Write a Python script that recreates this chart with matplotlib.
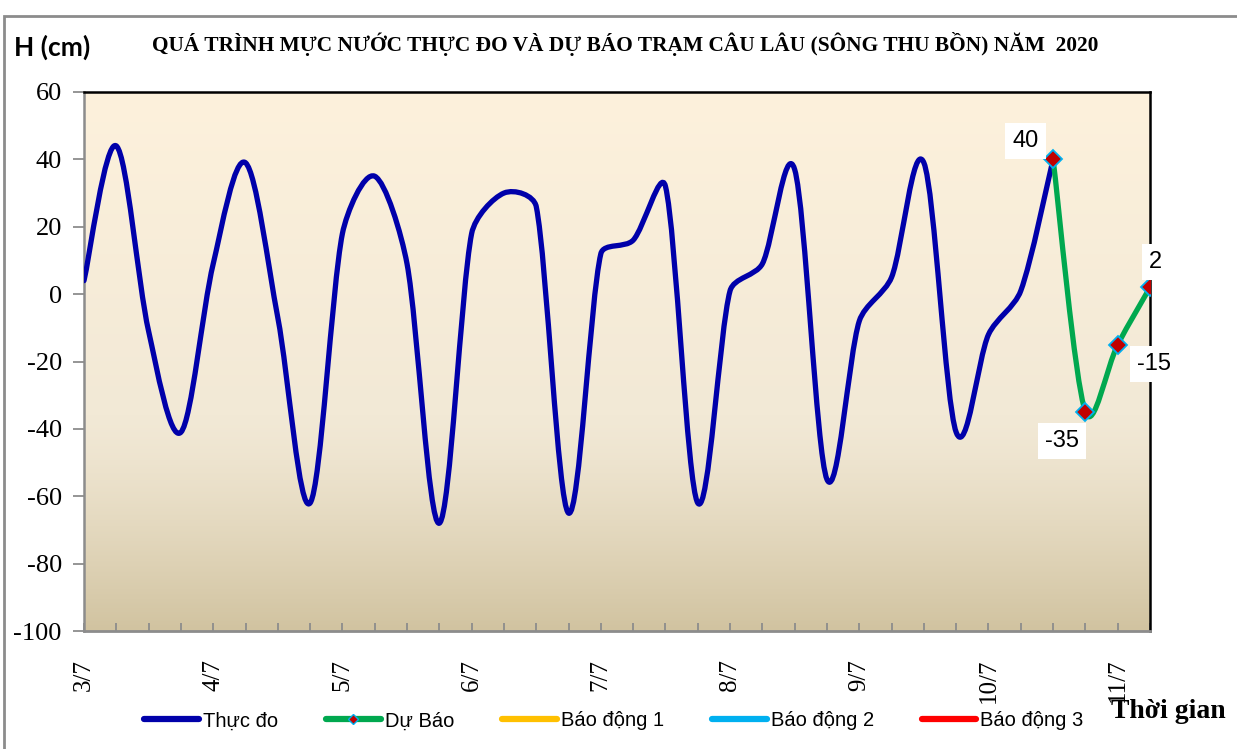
import numpy as np
import matplotlib
matplotlib.use("Agg")
import matplotlib.pyplot as plt
from matplotlib.path import Path
from matplotlib.patches import PathPatch, Rectangle
from matplotlib.lines import Line2D

# ---------------- data ----------------
day_labels = ["3/7", "4/7", "5/7", "6/7", "7/7", "8/7", "9/7", "10/7", "11/7"]
steps_per_day = 4  # 6-hourly observations

observed = [4, 44, -11, -41, 9, 39, -7, -62, 18, 35, 9, -68, 18, 30, 26, -65,
            12, 16, 32, -62, 1, 9, 37, -55, -8, 5, 39, -41, -12, 1, 40]
forecast_start = 30
forecast = [40, -35, -15, 2]

legend_labels = ["Thực đo", "Dự Báo", "Báo động 1", "Báo động 2", "Báo động 3"]
colors = {"obs": "#0000AA", "fc": "#00A84F", "bd1": "#FFC000", "bd2": "#00B0F0", "bd3": "#FF0000"}

title = "QUÁ TRÌNH MỰC NƯỚC THỰC ĐO VÀ DỰ BÁO TRẠM CÂU LÂU (SÔNG THU BỒN) NĂM  2020"

SERIF = ["Liberation Serif", "DejaVu Serif"]
SANS = ["Liberation Sans", "DejaVu Sans"]

W, H = 1237, 749
left, right, top, bottom = 84, 1150, 92, 631
YMIN, YMAX = -100, 60
n_steps = (len(day_labels) - 1) * steps_per_day + 1


def smooth_path(xs, ys, sx, sy):
    """Smoothed line: cubic Bezier through every point (Catmull-Rom tangents,
    control arms capped at a third of the segment length in screen space)."""
    pts = np.column_stack([np.asarray(xs, float) * sx, np.asarray(ys, float) * sy])
    n = len(pts)
    tang = []
    for i in range(n):
        a = pts[i - 1] if i > 0 else pts[i]
        b = pts[i + 1] if i < n - 1 else pts[i]
        tang.append((b - a) / 6.0)
    verts = [pts[0]]
    codes = [Path.MOVETO]
    for i in range(n - 1):
        p1, p2 = pts[i], pts[i + 1]
        L = np.hypot(*(p2 - p1))
        arms = []
        for tv in (tang[i], tang[i + 1]):
            ln = np.hypot(*tv)
            arms.append(tv * min(1.0, (L / 3.0) / ln) if ln > 0 else tv)
        c1 = p1 + arms[0]
        c2 = p2 - arms[1]
        verts += [c1, c2, p2]
        codes += [Path.CURVE4] * 3
    verts = np.array(verts)
    verts[:, 0] /= sx
    verts[:, 1] /= sy
    return Path(verts, codes)


fig = plt.figure(figsize=(W / 100, H / 100), dpi=100)
fig.patch.set_facecolor("white")

# outer chart border
fig.add_artist(Rectangle((4 / W, -0.01), 1.5, 1 - 16 / H + 0.01, transform=fig.transFigure,
                         fill=False, edgecolor="#8C8C8C", linewidth=2))

ax = fig.add_axes([left / W, 1 - bottom / H, (right - left) / W, (bottom - top) / H])
sx = (right - left) / n_steps
sy = (bottom - top) / (YMAX - YMIN)

# gradient background
grad_top = np.array([253, 241, 220]) / 255
grad_mid = np.array([242, 233, 214]) / 255
grad_bot = np.array([209, 195, 160]) / 255
t = np.linspace(0, 1, 256)[:, None]
g = np.where(t < 0.6, grad_top + (grad_mid - grad_top) * (t / 0.6),
             grad_mid + (grad_bot - grad_mid) * ((t - 0.6) / 0.4) ** 1.3)
ax.imshow(g[:, None, :], extent=[0, 1, 0, 1], transform=ax.transAxes, aspect="auto", zorder=0)

x_obs = np.arange(len(observed))
x_fc = np.arange(forecast_start, forecast_start + len(forecast))

ax.add_patch(PathPatch(smooth_path(x_obs, observed, sx, sy), fill=False, edgecolor=colors["obs"],
                       linewidth=3.8, capstyle="round", joinstyle="round", zorder=3))
ax.add_patch(PathPatch(smooth_path(x_fc, forecast, sx, sy), fill=False, edgecolor=colors["fc"],
                       linewidth=3.8, capstyle="round", joinstyle="round", zorder=4))
ax.plot(x_fc, forecast, linestyle="none", marker="D", markersize=9,
        markerfacecolor="#C00000", markeredgecolor="#00B0F0", markeredgewidth=1.3, zorder=5)

# data labels
offsets = [(-20, 13), (-17, -21), (26, -14), (4, 18)]
for xv, yv, off in zip(x_fc, forecast, offsets):
    ax.annotate(str(yv), (xv, yv), xytext=off, textcoords="offset points",
                ha="center", va="center", fontsize=17, family=SANS, color="black",
                bbox=dict(boxstyle="square,pad=0.3", facecolor="white", edgecolor="none"),
                zorder=6, annotation_clip=False)

ax.set_xlim(0, n_steps)
ax.set_ylim(YMIN, YMAX)

ax.set_xticks(np.arange(len(day_labels)) * steps_per_day)
ax.set_xticklabels(day_labels, rotation=90, family=SERIF, fontsize=18)
ax.set_xticks(np.arange(0, n_steps + 1), minor=True)
ax.tick_params(axis="x", which="both", direction="in", length=6, width=1.3,
               color="#8C8C8C", pad=20)

ax.set_yticks(np.arange(YMIN, YMAX + 1, 20))
ax.set_yticklabels([str(v) for v in range(YMIN, YMAX + 1, 20)], family=SERIF, fontsize=19)
ax.tick_params(axis="y", direction="out", length=8, width=1.3, color="#8C8C8C", pad=8)

ax.spines["left"].set_color("#8C8C8C")
ax.spines["left"].set_linewidth(1.8)
ax.spines["bottom"].set_color("#8C8C8C")
ax.spines["bottom"].set_linewidth(2)
ax.spines["top"].set_color("black")
ax.spines["top"].set_linewidth(1.8)
ax.spines["right"].set_color("black")
ax.spines["right"].set_linewidth(1.8)

# texts
fig.text(625 / W, 1 - 44 / H, title, ha="center", va="center", fontsize=15.4,
         fontweight="bold", family=SERIF)
fig.text(14 / W, 1 - 47 / H, "H (cm)", ha="left", va="center", fontsize=19,
         fontweight="bold", family=["Lato", "DejaVu Sans"])
fig.text(1226 / W, 1 - 712 / H, "Thời gian", ha="right", va="center", fontsize=20,
         fontweight="bold", family=SERIF)

# legend
handles = [
    Line2D([], [], color=colors["obs"], linewidth=4.5, solid_capstyle="round"),
    Line2D([], [], color=colors["fc"], linewidth=4.5, solid_capstyle="round", marker="D",
           markersize=5, markerfacecolor="#C00000", markeredgecolor="#00B0F0"),
    Line2D([], [], color=colors["bd1"], linewidth=4.5, solid_capstyle="round"),
    Line2D([], [], color=colors["bd2"], linewidth=4.5, solid_capstyle="round"),
    Line2D([], [], color=colors["bd3"], linewidth=4.5, solid_capstyle="round"),
]
fig.legend(handles, legend_labels, loc="center", bbox_to_anchor=(614 / W, 1 - 721 / H),
           ncol=5, frameon=False, handlelength=2.7, handletextpad=0.2, columnspacing=2.4,
           prop={"family": SANS, "size": 14.5})

fig.savefig("out.png", dpi=100, facecolor="white")
